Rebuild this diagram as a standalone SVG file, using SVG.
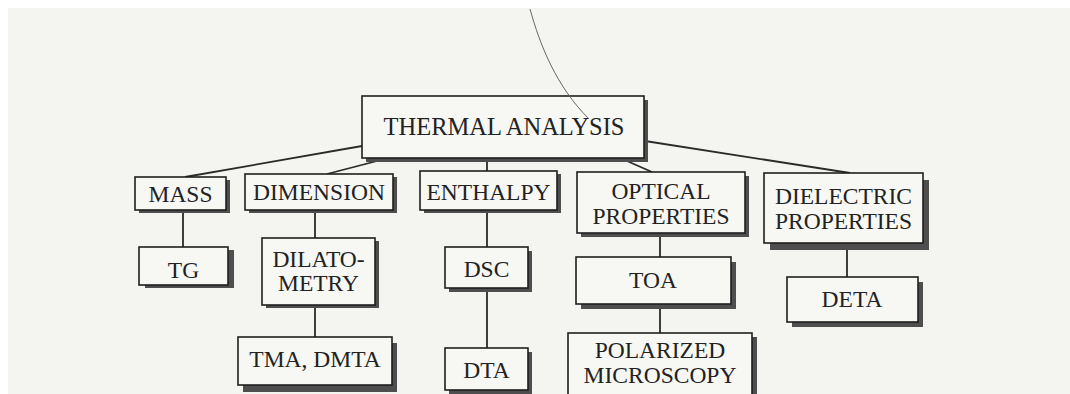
<svg xmlns="http://www.w3.org/2000/svg" width="1070" height="394" viewBox="0 0 1070 394">
<style>
.paper{fill:#f4f4f0}
.box{fill:#f7f7f3;stroke:#1e1e1e;stroke-width:1.6}
.sh{fill:#4e4e4e}
.t{font-family:"Liberation Serif","Times New Roman",serif;font-size:23.5px;fill:#222;text-anchor:middle}
.big{font-size:24.5px}
.c{stroke:#2a2a2a;stroke-width:1.8;fill:none}
</style>
<rect width="1070" height="394" fill="#ffffff"/>
<rect class="paper" x="8" y="8" width="1062" height="386"/>
<g id="connectors">
<line class="c" x1="362" y1="146" x2="185" y2="177"/>
<line class="c" x1="377" y1="161" x2="327" y2="174"/>
<line class="c" x1="487" y1="160" x2="487" y2="171"/>
<line class="c" x1="627" y1="161" x2="652" y2="172"/>
<line class="c" x1="645" y1="141" x2="850" y2="173"/>
<line class="c" x1="183" y1="213" x2="183" y2="247"/>
<line class="c" x1="315" y1="211" x2="315" y2="238"/>
<line class="c" x1="315" y1="308" x2="315" y2="337"/>
<line class="c" x1="487" y1="212" x2="487" y2="247"/>
<line class="c" x1="487" y1="291" x2="487" y2="348"/>
<line class="c" x1="660" y1="236" x2="660" y2="257"/>
<line class="c" x1="660" y1="309" x2="660" y2="333"/>
<line class="c" x1="847" y1="249" x2="847" y2="277"/>
</g>
<g id="thermal">
<rect class="sh" x="366" y="100" width="282" height="62"/>
<rect class="box" x="362" y="96" width="282" height="62"/>
<text class="t big" x="504" y="135">THERMAL ANALYSIS</text>
</g>
<g id="mass">
<rect class="sh" x="139" y="180" width="91" height="33"/>
<rect class="box" x="135" y="177" width="91" height="33"/>
<text class="t" x="180.5" y="202">MASS</text>
</g>
<g id="dimension">
<rect class="sh" x="249" y="177" width="148" height="36"/>
<rect class="box" x="245" y="174" width="148" height="36"/>
<text class="t" x="319" y="200">DIMENSION</text>
</g>
<g id="enthalpy">
<rect class="sh" x="424" y="174" width="137" height="39"/>
<rect class="box" x="420" y="171" width="137" height="39"/>
<text class="t" x="488.5" y="200">ENTHALPY</text>
</g>
<g id="optical">
<rect class="sh" x="581" y="176" width="168" height="61"/>
<rect class="box" x="577" y="172" width="168" height="61"/>
<text class="t" x="661" y="199">OPTICAL</text>
<text class="t" x="661" y="224">PROPERTIES</text>
</g>
<g id="dielectric">
<rect class="sh" x="770" y="180" width="159" height="70"/>
<rect class="box" x="764" y="173" width="159" height="70"/>
<text class="t" x="843.5" y="204">DIELECTRIC</text>
<text class="t" x="843.5" y="229">PROPERTIES</text>
</g>
<g id="tg">
<rect class="sh" x="145" y="250" width="89" height="38"/>
<rect class="box" x="139" y="247" width="89" height="38"/>
<text class="t" x="183.5" y="278">TG</text>
</g>
<g id="dilatometry">
<rect class="sh" x="266" y="241" width="113" height="67"/>
<rect class="box" x="262" y="238" width="113" height="67"/>
<text class="t" x="318.5" y="267">DILATO-</text>
<text class="t" x="318.5" y="291">METRY</text>
</g>
<g id="dsc">
<rect class="sh" x="449" y="251" width="83" height="41"/>
<rect class="box" x="445" y="247" width="83" height="41"/>
<text class="t" x="486.5" y="277">DSC</text>
</g>
<g id="toa">
<rect class="sh" x="581" y="262" width="155" height="47"/>
<rect class="box" x="576" y="257" width="155" height="47"/>
<text class="t" x="653" y="288">TOA</text>
</g>
<g id="deta">
<rect class="sh" x="792" y="282" width="131" height="45"/>
<rect class="box" x="787" y="277" width="131" height="45"/>
<text class="t" x="852" y="307">DETA</text>
</g>
<g id="tma">
<rect class="sh" x="243" y="343" width="154" height="49"/>
<rect class="box" x="238" y="337" width="154" height="48"/>
<text class="t" x="315" y="367">TMA, DMTA</text>
</g>
<g id="dta">
<rect class="sh" x="449" y="352" width="83" height="42"/>
<rect class="box" x="445" y="348" width="83" height="42"/>
<text class="t" x="486.5" y="378">DTA</text>
</g>
<g id="polarized">
<rect class="sh" x="573" y="337" width="184" height="70"/>
<rect class="box" x="568" y="333" width="184" height="70"/>
<text class="t" x="660" y="358">POLARIZED</text>
<text class="t" x="660" y="383">MICROSCOPY</text>
</g>
<path d="M530,9 C540,45 556,86 589,119" stroke="#666" stroke-width="1" fill="none"/>
</svg>
